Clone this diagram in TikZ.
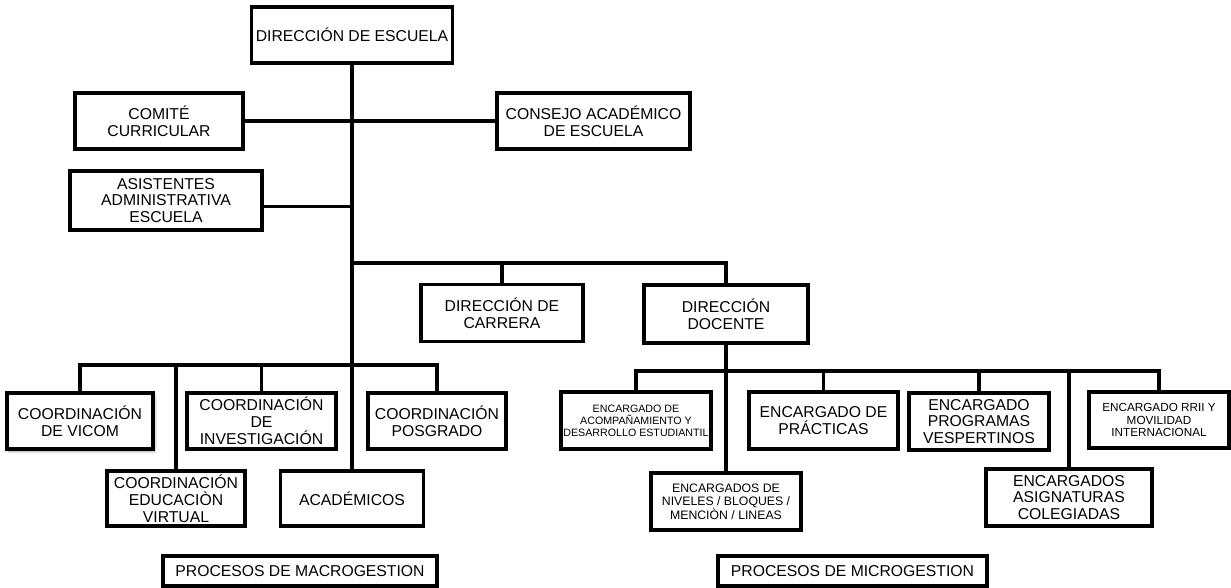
\documentclass[tikz,border=0pt]{standalone}
\usepackage{fontspec}
\setmainfont{Liberation Sans}
\usepackage{tikz}
\usetikzlibrary{positioning, arrows.meta, shadows.blur}

\begin{document}
\begin{tikzpicture}[
    x=0.75pt, y=-0.75pt,
    caja/.style={rectangle, draw, fill=white, line width=2.8pt, align=center, inner sep=0pt,
        font=\fontsize{11.8}{12.6}\selectfont},
    chica/.style={caja, font=\fontsize{8}{9}\selectfont},
    media/.style={caja, font=\fontsize{9.2}{10.2}\selectfont},
    linea/.style={line width=2.5pt}
]
    \useasboundingbox (0,0) rectangle (1231,587);

    % Direccion y consejos
    \node[caja, minimum width=150.75pt, minimum height=42pt] (escuela) at (352,35) {DIRECCIÓN DE ESCUELA};
    \node[caja, minimum width=126pt, minimum height=42pt] (comite) at (159,121) {COMITÉ\\CURRICULAR};
    \node[caja, minimum width=144.75pt, minimum height=42pt] (consejo) at (593.5,121) {CONSEJO ACADÉMICO\\DE ESCUELA};
    \node[caja, minimum width=144pt, minimum height=44.25pt] (asistentes) at (166,200.5) {ASISTENTES\\ADMINISTRATIVA\\ESCUELA};
    \node[caja, minimum width=121.5pt, minimum height=42.75pt] (carrera) at (502,313) {DIRECCIÓN DE\\CARRERA};
    \node[caja, minimum width=123pt, minimum height=43.5pt] (docente) at (726,314) {DIRECCIÓN\\DOCENTE};

    % Macrogestion
    \node[caja, minimum width=109.5pt, minimum height=42pt,
        blur shadow={shadow xshift=1.2pt, shadow yshift=-1.8pt, shadow blur steps=6}] (vicom) at (80,421) {COORDINACIÓN\\DE VICOM};
    \node[caja, minimum width=111.75pt, minimum height=42pt] (investigacion) at (261.5,421) {COORDINACIÓN\\DE\\INVESTIGACIÓN};
    \node[caja, minimum width=103.5pt, minimum height=42pt] (posgrado) at (437,421) {COORDINACIÓN\\POSGRADO};
    \node[caja, minimum width=103.5pt, minimum height=41.25pt] (virtual) at (176,498.5) {COORDINACIÓN\\EDUCACIÒN\\VIRTUAL};
    \node[caja, minimum width=107.25pt, minimum height=41.25pt] (academicos) at (352,498.5) {ACADÉMICOS};
    \node[caja, minimum width=205.5pt, minimum height=22.5pt] (macro) at (300,571) {PROCESOS DE MACROGESTION};

    % Microgestion
    \node[chica, minimum width=112.5pt, minimum height=42.75pt] (acompanamiento) at (636,420.5) {ENCARGADO DE\\ACOMPAÑAMIENTO Y\\DESARROLLO ESTUDIANTIL};
    \node[media, minimum width=112.5pt, minimum height=42.75pt] (niveles) at (726,501.5) {ENCARGADOS DE\\NIVELES / BLOQUES /\\MENCIÒN / LINEAS};
    \node[caja, minimum width=111.75pt, minimum height=42.75pt] (practicas) at (823.5,420.5) {ENCARGADO DE\\PRÁCTICAS};
    \node[caja, minimum width=105pt, minimum height=42.75pt] (vespertinos) at (979,421.5) {ENCARGADO\\PROGRAMAS\\VESPERTINOS};
    \node[caja, minimum width=124.5pt, minimum height=42.75pt] (colegiadas) at (1069,497.5) {ENCARGADOS\\ASIGNATURAS\\COLEGIADAS};
    \node[chica, font=\fontsize{8.8}{9.6}\selectfont, minimum width=105pt, minimum height=42pt] (rrii) at (1159,420) {ENCARGADO RRII Y\\MOVILIDAD\\INTERNACIONAL};
    \node[caja, minimum width=201.75pt, minimum height=22.5pt] (micro) at (852.5,571) {PROCESOS DE MICROGESTION};

    % Puntos de union
    \coordinate (ramader) at (352,263);
    \coordinate (barmacro) at (352,365);
    \coordinate (barmicro) at (726,371);

    % Conectores
    \draw[linea] (escuela.south) -- (academicos.north);
    \draw[linea] (comite.east) -- (consejo.west);
    \draw[linea] ([yshift=-4.5pt]asistentes.east) -- ([yshift=-4.5pt]asistentes.east -| escuela.south);
    \draw[linea] (ramader) -| (docente.north);
    \draw[linea] (carrera.north) -- (carrera.north |- ramader);

    \draw[linea] (vicom.north) |- (barmacro) -| (posgrado.north);
    \draw[linea] (virtual.north) -- (virtual.north |- barmacro);
    \draw[linea] (investigacion.north) -- (investigacion.north |- barmacro);

    \draw[linea] (docente.south) -- (niveles.north);
    \draw[linea] (acompanamiento.north) |- (barmicro) -| (rrii.north);
    \draw[linea] (practicas.north) -- (practicas.north |- barmicro);
    \draw[linea] (vespertinos.north) -- (vespertinos.north |- barmicro);
    \draw[linea] (colegiadas.north) -- (colegiadas.north |- barmicro);
\end{tikzpicture}
\end{document}
